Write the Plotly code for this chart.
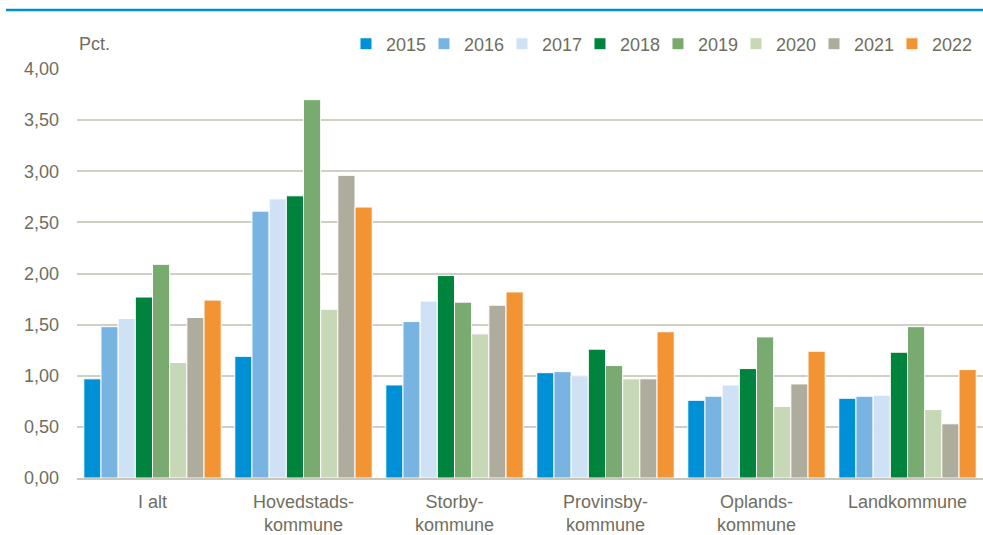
import plotly.graph_objects as go

categories = ["I alt", "Hovedstads-<br>kommune", "Storby-<br>kommune",
              "Provinsby-<br>kommune", "Oplands-<br>kommune", "Landkommune"]
years = ["2015", "2016", "2017", "2018", "2019", "2020", "2021", "2022"]

v2015 = [0.97, 1.19, 0.91, 1.03, 0.76, 0.78]
v2016 = [1.48, 2.61, 1.53, 1.04, 0.80, 0.80]
v2017 = [1.56, 2.73, 1.73, 1.00, 0.91, 0.81]
v2018 = [1.77, 2.76, 1.98, 1.26, 1.07, 1.23]
v2019 = [2.09, 3.70, 1.72, 1.10, 1.38, 1.48]
v2020 = [1.13, 1.65, 1.41, 0.97, 0.70, 0.67]
v2021 = [1.57, 2.96, 1.69, 0.97, 0.92, 0.53]
v2022 = [1.74, 2.65, 1.82, 1.43, 1.24, 1.06]
series = [v2015, v2016, v2017, v2018, v2019, v2020, v2021, v2022]

colors = ["#0090d6", "#78b4e2", "#cfe2f5", "#00843d",
          "#79aa6f", "#c7d8b6", "#aeac9c", "#f29433"]

y_ticks = [0, 0.5, 1, 1.5, 2, 2.5, 3, 3.5, 4]

FONT = "Liberation Sans, Arial, sans-serif"
TXT = "#6f6e5e"

fig = go.Figure()
for yr, vals, col in zip(years, series, colors):
    fig.add_trace(go.Bar(
        x=categories, y=vals, name=yr,
        marker=dict(color=col, line=dict(color="white", width=1)),
    ))

# invisible spacer entry so the last legend label is not clipped
fig.add_trace(go.Scatter(x=[None], y=[None], mode="markers", name=" ",
                         marker=dict(color="rgba(0,0,0,0)", size=1),
                         hoverinfo="skip", showlegend=True))

fig.update_layout(
    width=983, height=535,
    barmode="group", bargap=0.09, bargroupgap=0,
    separators=",.",
    plot_bgcolor="white", paper_bgcolor="white",
    margin=dict(l=77, r=0, t=69, b=57, autoexpand=False),
    font=dict(family=FONT, size=18, color=TXT),
    showlegend=True,
    legend=dict(orientation="h", x=0.2969, xanchor="left", y=1.061, yanchor="middle",
                font=dict(family=FONT, size=18, color=TXT),
                entrywidth=33, entrywidthmode="pixels",
                itemwidth=30, traceorder="normal", bgcolor="rgba(0,0,0,0)"),
    xaxis=dict(showline=True, linecolor="#c8c7bb", linewidth=2, automargin=False,
               showgrid=False, ticks="", ticklabelstandoff=6,
               tickfont=dict(size=18, color=TXT)),
    yaxis=dict(range=[0, 4], tickvals=y_ticks, tickformat=".2f", automargin=False,
               showgrid=True, gridcolor="#d0cfc4", gridwidth=1.5,
               zeroline=False, showline=False, ticks="",
               ticklabelstandoff=17, tickfont=dict(size=18, color=TXT)),
    shapes=[dict(type="line", xref="paper", yref="paper",
                 x0=-0.0784, x1=1.0, y0=1.1443, y1=1.1443,
                 line=dict(color="#0090d0", width=2.5))],
    annotations=[dict(text="Pct.", xref="paper", yref="paper", x=0.0, y=1.061,
                      xanchor="left", yanchor="middle", showarrow=False,
                      font=dict(family=FONT, size=18, color=TXT))],
)

fig.write_html("out.html", config={"displayModeBar": False},
               post_script="document.body.style.margin='0';document.body.style.overflow='hidden';")
